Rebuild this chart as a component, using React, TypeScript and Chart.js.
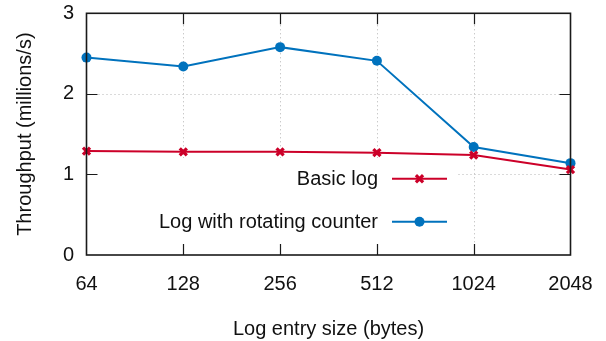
import React, { useEffect, useRef } from 'react';
import { Chart, registerables } from 'chart.js';

Chart.register(...registerables);

const sizes = ['64', '128', '256', '512', '1024', '2048'];
const basicLog = [1.29, 1.28, 1.28, 1.27, 1.24, 1.06];
const rotatingCounter = [2.45, 2.34, 2.58, 2.41, 1.34, 1.14];
const yTicks = [0, 1, 2, 3];
const seriesNames = ['Basic log', 'Log with rotating counter'];
const xTitle = 'Log entry size (bytes)';
const yTitle = 'Throughput (millions/s)';

const RED = '#cc0029';
const BLUE = '#0072bd';
const FONT = '"Liberation Sans", Arial, Helvetica, sans-serif';
const TICK_FS = 20;
const TEXT_FS = 20;

const framePlugin = {
  id: 'frame',
  beforeDatasetsDraw(chart: any) {
    const { ctx, chartArea, scales } = chart;
    const { left, right, top, bottom } = chartArea;
    const x = scales.x;
    const y = scales.y;
    ctx.save();
    ctx.strokeStyle = '#b4b4b4';
    ctx.lineWidth = 1;
    ctx.setLineDash([1, 3]);
    for (let i = 1; i < sizes.length - 1; i++) {
      const px = Math.round(x.getPixelForTick(i)) + 0.5;
      ctx.beginPath();
      ctx.moveTo(px, top);
      ctx.lineTo(px, bottom);
      ctx.stroke();
    }
    for (const v of yTicks.slice(1, -1)) {
      const py = Math.round(y.getPixelForValue(v)) + 0.5;
      ctx.beginPath();
      ctx.moveTo(left, py);
      ctx.lineTo(right, py);
      ctx.stroke();
    }
    ctx.setLineDash([]);
    // opaque legend box
    ctx.fillStyle = '#ffffff';
    ctx.fillRect(left + 1, 158, 457 - left, bottom - 158);
    ctx.restore();
  },
  afterDatasetsDraw(chart: any) {
    const { ctx, chartArea, scales } = chart;
    const { left, right, top, bottom } = chartArea;
    const x = scales.x;
    const y = scales.y;
    ctx.save();
    ctx.strokeStyle = '#1a1a1a';
    ctx.lineWidth = 1.6;
    ctx.strokeRect(left, top, right - left, bottom - top);
    const TL = 11;
    ctx.lineWidth = 1.2;
    for (let i = 1; i < sizes.length - 1; i++) {
      const px = Math.round(x.getPixelForTick(i)) + 0.5;
      ctx.beginPath();
      ctx.moveTo(px, bottom);
      ctx.lineTo(px, bottom - TL);
      ctx.moveTo(px, top);
      ctx.lineTo(px, top + TL);
      ctx.stroke();
    }
    for (const v of yTicks.slice(1, -1)) {
      const py = Math.round(y.getPixelForValue(v)) + 0.5;
      ctx.beginPath();
      ctx.moveTo(left, py);
      ctx.lineTo(left + TL, py);
      ctx.moveTo(right, py);
      ctx.lineTo(right - TL, py);
      ctx.stroke();
    }
    // legend
    ctx.font = `${TEXT_FS}px ${FONT}`;
    ctx.textAlign = 'right';
    ctx.textBaseline = 'middle';
    const rows = [178.7, 221.7];
    const mx = 419.5;
    chart.data.datasets.forEach((ds: any, i: number) => {
      const ry = rows[i];
      ctx.fillStyle = '#111';
      ctx.fillText(ds.label, 378, ry + 1);
      ctx.strokeStyle = ds.borderColor;
      ctx.lineWidth = 2;
      ctx.beginPath();
      ctx.moveTo(392, ry);
      ctx.lineTo(447, ry);
      ctx.stroke();
      if (ds.pointStyle === 'circle') {
        ctx.fillStyle = ds.borderColor;
        ctx.beginPath();
        ctx.arc(mx, ry, 5, 0, Math.PI * 2);
        ctx.fill();
      } else {
        const r = 3.6;
        ctx.lineWidth = 3.2;
        ctx.beginPath();
        ctx.moveTo(mx - r, ry - r);
        ctx.lineTo(mx + r, ry + r);
        ctx.moveTo(mx - r, ry + r);
        ctx.lineTo(mx + r, ry - r);
        ctx.stroke();
      }
    });
    // axis titles
    ctx.fillStyle = '#111';
    ctx.textAlign = 'center';
    ctx.textBaseline = 'middle';
    ctx.font = `${TEXT_FS}px ${FONT}`;
    ctx.fillText(xTitle, (left + right) / 2, 329);
    ctx.translate(25, (top + bottom) / 2);
    ctx.rotate(-Math.PI / 2);
    ctx.fillText(yTitle, 0, 0);
    ctx.restore();
  },
};

export default function App() {
  const ref = useRef<HTMLCanvasElement | null>(null);
  useEffect(() => {
    if (!ref.current) return;
    const chart = new Chart(ref.current, {
      type: 'line',
      data: {
        labels: sizes,
        datasets: [
          {
            label: seriesNames[0],
            data: basicLog,
            borderColor: RED,
            backgroundColor: RED,
            borderWidth: 2,
            pointStyle: 'crossRot',
            pointRadius: 5,
            pointBorderWidth: 3.2,
            tension: 0,
            clip: false as any,
          },
          {
            label: seriesNames[1],
            data: rotatingCounter,
            borderColor: BLUE,
            backgroundColor: BLUE,
            borderWidth: 2,
            pointStyle: 'circle',
            pointRadius: 5,
            pointBorderWidth: 0,
            tension: 0,
            clip: false as any,
          },
        ],
      },
      options: {
        animation: false,
        responsive: false,
        devicePixelRatio: 1,
        layout: { padding: { top: 13.3, right: 35.5, left: 0, bottom: 0 } },
        plugins: {
          legend: { display: false },
          tooltip: { enabled: false },
        },
        scales: {
          x: {
            type: 'category',
            offset: false,
            grid: { display: false, drawTicks: false },
            border: { display: false },
            ticks: {
              color: '#111',
              font: { family: FONT, size: TICK_FS },
              padding: 17.5,
              maxRotation: 0,
              autoSkip: false,
            },
            afterFit: (s: any) => {
              s.height = 86;
              s.paddingLeft = 0;
              s.paddingRight = 0;
            },
          },
          y: {
            min: 0,
            max: 3,
            grid: { display: false, drawTicks: false },
            border: { display: false },
            ticks: {
              color: '#111',
              font: { family: FONT, size: TICK_FS },
              padding: 12.5,
            },
            afterBuildTicks: (s: any) => {
              s.ticks = yTicks.map((v) => ({ value: v }));
            },
            afterFit: (s: any) => {
              s.width = 86.5;
              s.paddingTop = 0;
              s.paddingBottom = 0;
            },
          },
        },
      },
      plugins: [framePlugin],
    });
    return () => chart.destroy();
  }, []);
  return (
    <div style={{ position: 'fixed', left: 0, top: 0, width: 606, height: 341, background: '#fff' }}>
      <canvas ref={ref} width={606} height={341} style={{ display: 'block' }} />
    </div>
  );
}
